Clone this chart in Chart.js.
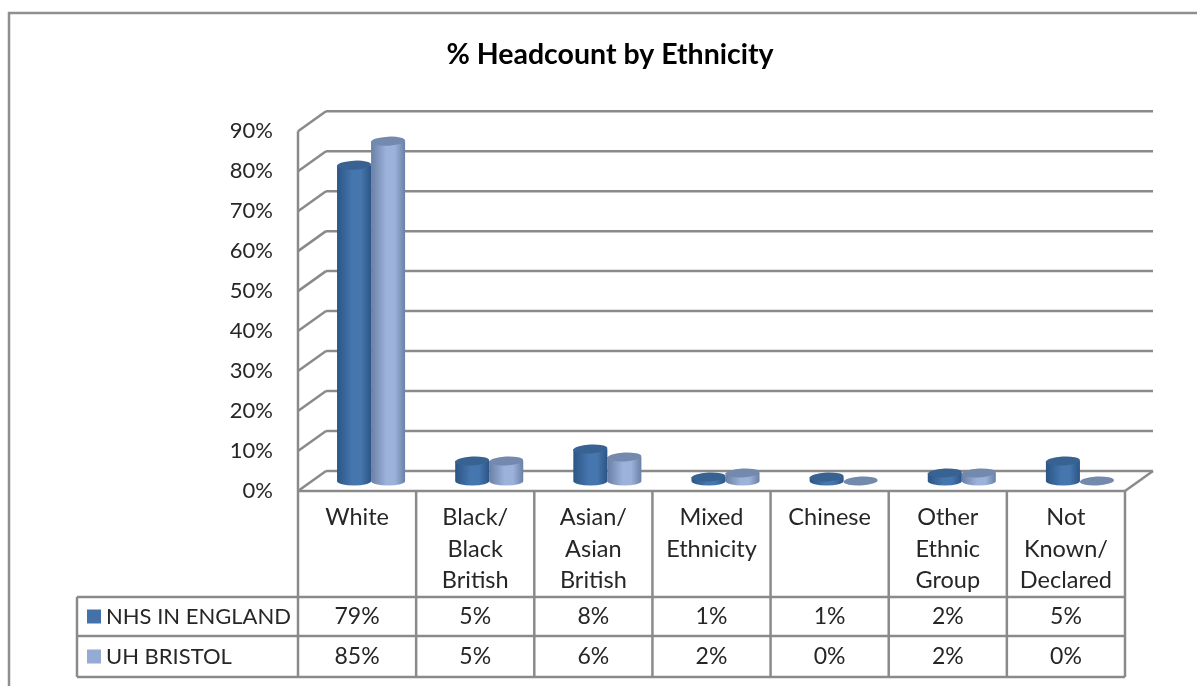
<!DOCTYPE html>
<html>
<head>
<meta charset="utf-8">
<title>% Headcount by Ethnicity</title>
<style>
  html, body { margin: 0; background: #fff; }
  canvas { display: block; }
</style>
<script src="https://cdn.jsdelivr.net/npm/chart.js@4/dist/chart.umd.min.js"></script>
</head>
<body>
<canvas id="chart" width="1197" height="686"></canvas>
<script>
const categories = [
  ["White"],
  ["Black/", "Black", "British"],
  ["Asian/", "Asian", "British"],
  ["Mixed", "Ethnicity"],
  ["Chinese"],
  ["Other", "Ethnic", "Group"],
  ["Not", "Known/", "Declared"]
]
const nhsEngland = [79, 5, 8, 1, 1, 2, 5]
const uhBristol = [85, 5, 6, 2, 0, 2, 0]
const seriesNames = ["NHS IN ENGLAND", "UH BRISTOL"]
const swatches = ["#4472a8", "#95aad4"]

const font = "Lato"
const line = "#8a8a8a"
const text = "#262626"

// depth of the fake 3D box, the bars stand half way in
const depthX = 28
const depthY = -20

// left/mid/right shades of each cylinder and its lid
const shades = [
  { side: "#2b5585", mid: "#4676ae", lid: "#386291" },
  { side: "#6a80a6", mid: "#9cb2da", lid: "#7389ad" }
]

const seg = (ctx, x1, y1, x2, y2) => {
  ctx.beginPath()
  ctx.moveTo(x1, y1)
  ctx.lineTo(x2, y2)
  ctx.stroke()
}

const box3d = {
  id: "box3d",
  beforeDatasetsDraw(chart) {
    const { ctx, scales: { x, y } } = chart
    const left = x.left, right = x.right
    ctx.save()
    ctx.strokeStyle = line
    ctx.lineWidth = 2.5
    y.ticks.forEach(t => {
      const py = y.getPixelForValue(t.value)
      seg(ctx, left, py, left + depthX, py + depthY)
      seg(ctx, left + depthX, py + depthY, right + depthX, py + depthY)
    })
    const y0 = y.getPixelForValue(0)
    seg(ctx, left, y.top, left, y0)
    seg(ctx, left, y0, right, y0)
    seg(ctx, right, y0, right + depthX, y0 + depthY)
    ctx.restore()
  },
  // swap the flat bars for cylinders
  beforeDatasetDraw(chart, args) {
    const { ctx } = chart
    const shade = shades[args.index]
    args.meta.data.forEach(bar => {
      const w = bar.width
      const l = bar.x - w / 2 + depthX / 2
      const cx = bar.x + depthX / 2
      const top = bar.y + depthY / 2
      const base = bar.base + depthY / 2
      const ry = 4.5
      ctx.save()
      if (base - top > 0.5) {
        const grad = ctx.createLinearGradient(l, 0, l + w, 0)
        grad.addColorStop(0, shade.side)
        grad.addColorStop(0.45, shade.mid)
        grad.addColorStop(0.7, shade.mid)
        grad.addColorStop(1, shade.side)
        ctx.fillStyle = grad
        ctx.beginPath()
        ctx.moveTo(l, top)
        ctx.lineTo(l, base)
        ctx.ellipse(cx, base, w / 2, ry, 0, Math.PI, 0, true)
        ctx.lineTo(l + w, top)
        ctx.closePath()
        ctx.fill()
      }
      ctx.fillStyle = shade.lid
      ctx.beginPath()
      ctx.ellipse(cx, top, w / 2, ry, -0.05, 0, Math.PI * 2)
      ctx.fill()
      ctx.restore()
    })
    return false
  }
}

// data table under the plot, one column per category
const dataTable = {
  id: "dataTable",
  afterDraw(chart) {
    const { ctx, scales: { x, y } } = chart
    const top = y.getPixelForValue(0)
    const rows = [597, 636, 677]
    const tableLeft = 77
    const step = (x.right - x.left) / categories.length
    ctx.save()

    // outer frame of the whole chart, it runs off the right and bottom
    ctx.strokeStyle = "#8f8f8f"
    ctx.lineWidth = 2.5
    ctx.beginPath()
    ctx.moveTo(9, 686)
    ctx.lineTo(9, 13)
    ctx.lineTo(1197, 13)
    ctx.stroke()

    ctx.strokeStyle = line
    categories.forEach((c, i) => seg(ctx, x.left + step * (i + 1), top, x.left + step * (i + 1), rows[2]))
    seg(ctx, x.left, top, x.left, rows[2])
    rows.forEach(r => seg(ctx, tableLeft, r, x.right, r))
    seg(ctx, tableLeft, rows[0], tableLeft, rows[2])

    ctx.textBaseline = "middle"
    ;[nhsEngland, uhBristol].forEach((vals, s) => {
      const cy = (rows[s] + rows[s + 1]) / 2
      ctx.fillStyle = swatches[s]
      ctx.fillRect(87, cy - 7, 14, 14)
      ctx.fillStyle = text
      ctx.font = "22px " + font
      ctx.textAlign = "left"
      ctx.fillText(seriesNames[s], 106, cy)
      ctx.font = "23px " + font
      ctx.textAlign = "center"
      vals.forEach((v, i) => ctx.fillText(v + "%", x.getPixelForValue(i), cy))
    })
    ctx.restore()
  }
}

Chart.register(box3d, dataTable)

const headcountChart = new Chart(document.getElementById("chart"), {
  type: "bar",
  data: {
    labels: categories,
    datasets: [
      { label: seriesNames[0], data: nhsEngland, backgroundColor: swatches[0] },
      { label: seriesNames[1], data: uhBristol, backgroundColor: swatches[1] }
    ]
  },
  options: {
    responsive: false,
    animation: false,
    barPercentage: 1,
    categoryPercentage: 0.576,
    layout: { padding: { left: 95, right: 72, top: 0, bottom: 0 } },
    plugins: {
      legend: { display: false },
      tooltip: { enabled: false },
      title: {
        display: true,
        text: "% Headcount by Ethnicity",
        color: "#000",
        font: { family: font, size: 28.5, weight: "bold" },
        padding: { top: 38, bottom: 59 }
      }
    },
    scales: {
      x: {
        grid: { display: false },
        border: { display: false },
        afterFit: s => { s.height = 195 },
        ticks: {
          color: text,
          font: { family: font, size: 23.5, lineHeight: 1.34 },
          maxRotation: 0,
          autoSkip: false,
          padding: 3
        }
      },
      y: {
        min: 0,
        max: 90,
        grid: { display: false },
        border: { display: false },
        afterFit: s => { s.width = 203 },
        ticks: {
          stepSize: 10,
          color: text,
          padding: 17,
          font: { family: font, size: 22 },
          callback: v => v + "%"
        }
      }
    }
  }
})
</script>
</body>
</html>
